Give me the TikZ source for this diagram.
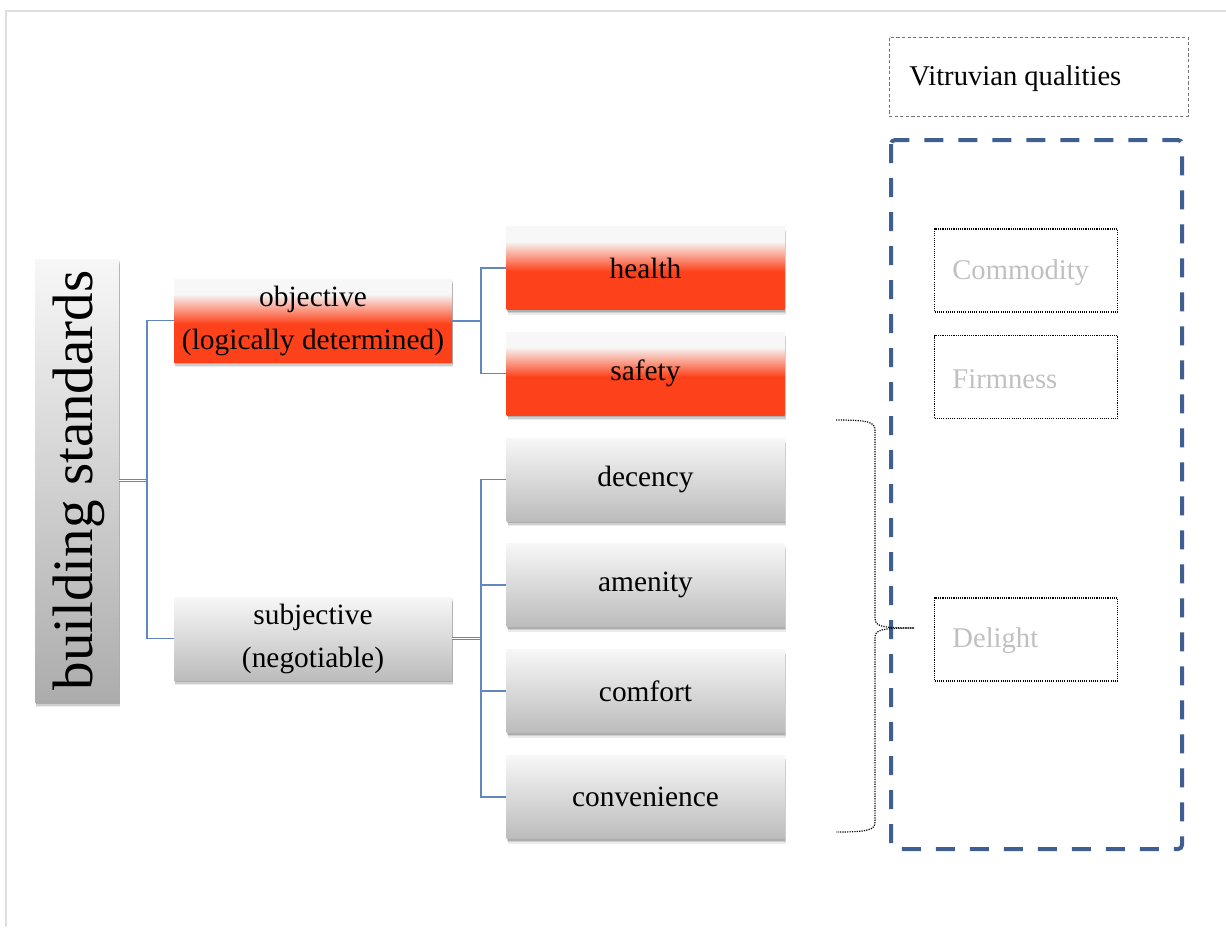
\documentclass[tikz,border=0pt]{standalone}
\usepackage{fontspec}
\setmainfont{Liberation Serif}
\usetikzlibrary{shadows}

\definecolor{rfill}{RGB}{253,66,27}
\definecolor{ltop}{RGB}{247,247,247}
\definecolor{gbot}{RGB}{188,188,188}
\definecolor{bsbot}{RGB}{172,172,172}
\definecolor{linkblue}{RGB}{98,135,192}
\definecolor{frameblue}{RGB}{62,95,143}
\definecolor{qtext}{RGB}{192,192,192}
\definecolor{framegray}{RGB}{222,222,222}

% vertical fades: the middle 25bp..75bp band maps onto the node
\pgfdeclareverticalshading{redfade}{100bp}{color(0bp)=(rfill); color(48bp)=(rfill); color(66bp)=(ltop); color(100bp)=(ltop)}
\pgfdeclareverticalshading{grayfade}{100bp}{color(0bp)=(gbot); color(25bp)=(gbot); color(75bp)=(ltop); color(100bp)=(ltop)}
\pgfdeclareverticalshading{bsfade}{100bp}{color(0bp)=(bsbot); color(25bp)=(bsbot); color(75bp)=(ltop); color(100bp)=(ltop)}

\tikzset{
  softshadow/.style={
    drop shadow={shadow xshift=0.6pt, shadow yshift=-2.6pt, opacity=0.08, fill=black},
    drop shadow={shadow xshift=0.5pt, shadow yshift=-1.9pt, opacity=0.12, fill=black},
    drop shadow={shadow xshift=0.3pt, shadow yshift=-1.2pt, opacity=0.16, fill=black}},
  cardbox/.style={rectangle, inner sep=0pt, minimum width=139pt, minimum height=41.5pt,
    align=center, font=\fontsize{14.7}{21.5}\selectfont, softshadow},
  redbox/.style={cardbox, shading=redfade},
  graybox/.style={cardbox, shading=grayfade},
  link/.style={draw=linkblue, line width=0.6pt},
  dbllink/.style={draw=linkblue, line width=0.5pt, double=white, double distance=0.5pt},
  qbox/.style={draw=black, line width=0.55pt, dash pattern=on 0.55pt off 0.55pt,
    rectangle, minimum width=91.5pt, minimum height=41.5pt, inner sep=0pt},
  qtextstyle/.style={anchor=west, text=qtext, font=\fontsize{14.3}{17}\selectfont, inner sep=0pt},
}

\begin{document}
\begin{tikzpicture}[x=0.5pt, y=-0.5pt]
\useasboundingbox (0,0) rectangle (1226,927);

% page frame
\draw[framegray, line width=0.6pt] (6,927) -- (6,11) -- (1226,11);

% root box with vertical title
\node[rectangle, inner sep=0pt, minimum width=42pt, minimum height=221.5pt, shading=bsfade,
  softshadow] (bs) at (77,480.5) {};
\node[rotate=90, font=\fontsize{28.5}{30}\selectfont, inner sep=0pt] (bstext) at (79,480.5) {building standards};

% second level
\node[redbox] (obj) at (313,320.5) {objective\\(logically determined)};
\node[graybox] (subj) at (313,638.5) {subjective\\(negotiable)};

% third level
\node[redbox] (health) at (645.5,268) {health};
\node[redbox] (safety) at (645.5,373.5) {safety};
\node[graybox] (decency) at (645.5,479.5) {decency};
\node[graybox] (amenity) at (645.5,585) {amenity};
\node[graybox] (comfort) at (645.5,691) {comfort};
\node[graybox] (convenience) at (645.5,797) {convenience};

% tree connectors
\coordinate (j1) at (147,480.5);
\coordinate (j2) at (481,320.5);
\coordinate (j3) at (481,638.5);
\draw[dbllink] (bs.east) -- (j1);
\draw[link] (obj.west) -| (j1) |- (subj.west);
\draw[link, line width=1pt] (obj.east) -- (j2);
\draw[link] (health.west) -| (j2) |- (safety.west);
\draw[dbllink] (subj.east) -- (j3);
\draw[link] (decency.west) -| (j3) |- (convenience.west);
\draw[link] (amenity.west) -| (j3);
\draw[link] (comfort.west) -| (j3);

% Vitruvian qualities
\node[draw=black!55, line width=0.5pt, dash pattern=on 1.6pt off 1.2pt, rectangle,
  minimum width=149.5pt, minimum height=39.5pt, inner sep=0pt] (vq) at (1038.5,76.5) {};
\node[anchor=west, inner sep=0pt, font=\fontsize{14.3}{17}\selectfont] (vqtext) at (909,79) {Vitruvian qualities};

\draw[frameblue, line width=2pt, dash pattern=on 9.5pt off 7.5pt, rounded corners=2pt]
  (891,140) rectangle (1182,849);

\node[qbox] (commodity) at (1026,270.5) {};
\node[qbox] (firmness) at (1026,377) {};
\node[qbox] (delight) at (1026,639.5) {};
\node[qtextstyle] (ctext) at (952,273) {Commodity};
\node[qtextstyle] (ftext) at (952,379) {Firmness};
\node[qtextstyle] (dtext) at (952,641) {Delight};

% brace grouping decency .. convenience
\coordinate (btop) at (836,420);
\coordinate (bbot) at (836,832);
\coordinate (btip) at (914,628);
\draw[black, line width=0.6pt, dash pattern=on 0.6pt off 0.6pt]
  (btop) .. controls (868,420) and (875,422) .. (875,430) -- (875,618)
  .. controls (875,626) and (880,628) .. (btip);
\draw[black, line width=0.6pt, dash pattern=on 0.6pt off 0.6pt]
  (btip) .. controls (880,628) and (875,630) .. (875,638) -- (875,822)
  .. controls (875,830) and (868,832) .. (bbot);
\end{tikzpicture}
\end{document}
